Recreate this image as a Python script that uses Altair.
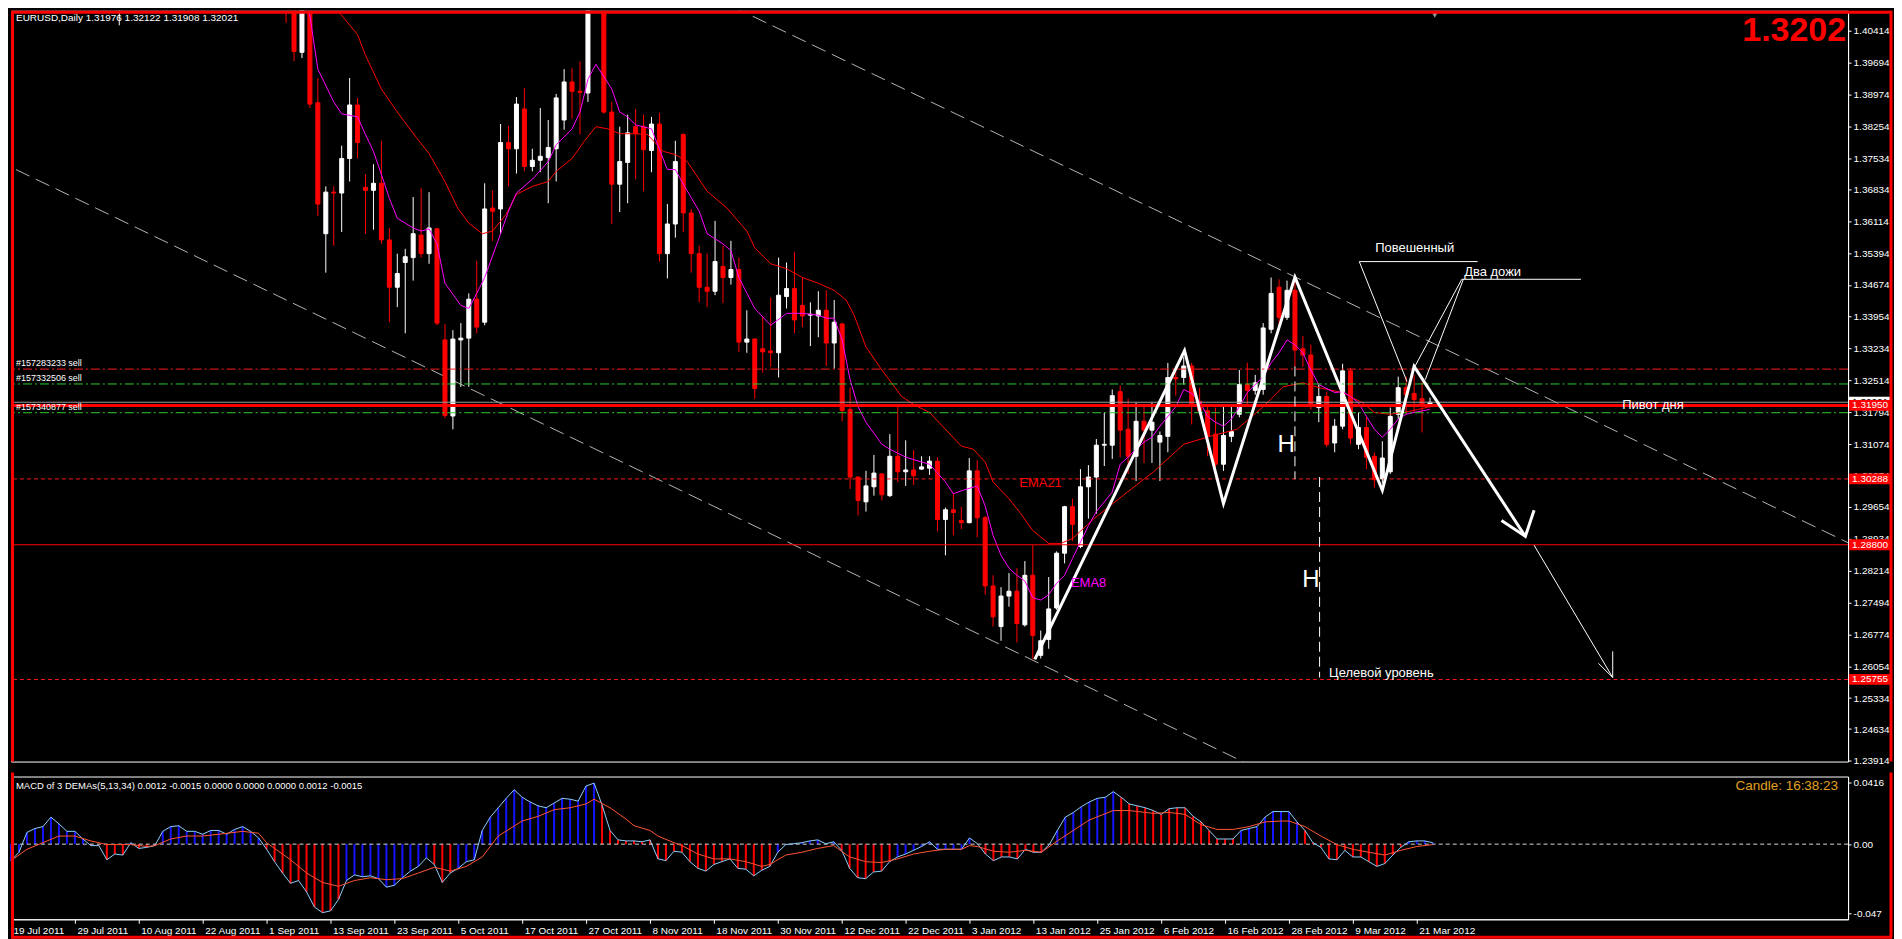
import altair as alt
import pandas as pd

FONT = "Liberation Sans"
W, H_MAIN, H_MACD = 1840, 752, 143

# ---------------- candles (bar index from 19 Jul 2011 = 0) ----------------
bar_idx = [12, 13] + list(range(34, 179))
opens = [
    1.4330, 1.4150,
    1.4190, 1.4120, 1.3993, 1.4100, 1.3879, 1.3583, 1.3677, 1.3675, 1.3753, 1.3874,
    1.3688, 1.3681, 1.3697, 1.3569, 1.3462, 1.3518, 1.3529, 1.3580, 1.3538, 1.3594,
    1.3343, 1.3171, 1.3343, 1.3347, 1.3435, 1.3383, 1.3641, 1.3639, 1.3789, 1.3775,
    1.3865, 1.3735, 1.3749, 1.3755, 1.3775, 1.3840, 1.3926, 1.3905, 1.3901, 1.4180,
    1.4140, 1.3858, 1.3695, 1.3744, 1.3825, 1.3825, 1.3771, 1.3831, 1.3538, 1.3605,
    1.3807, 1.3630, 1.3538, 1.3462, 1.3453, 1.3509, 1.3484, 1.3502, 1.3338, 1.3345,
    1.3323, 1.3318, 1.3314, 1.3441, 1.3459, 1.3421, 1.3399, 1.3397, 1.3410, 1.3336,
    1.3379, 1.3186, 1.3033, 1.2977, 1.3011, 1.3040, 1.2991, 1.3080, 1.3045, 1.3049,
    1.3051, 1.3053, 1.3069, 1.2937, 1.2959, 1.2935, 1.2930, 1.3047, 1.2941, 1.2787,
    1.2695, 1.2764, 1.2775, 1.2699, 1.2811, 1.2630, 1.2666, 1.2737, 1.2861, 1.2966,
    1.2876, 1.3011, 1.3033, 1.3105, 1.3105, 1.3226, 1.3141, 1.3080, 1.3159, 1.3139,
    1.3112, 1.3125, 1.3258, 1.3258, 1.3284, 1.3204, 1.3183, 1.3130, 1.3062, 1.3125,
    1.3175, 1.3242, 1.3229, 1.3231, 1.3367, 1.3462, 1.3394, 1.3455, 1.3323, 1.3309,
    1.3190, 1.3215, 1.3110, 1.3148, 1.3273, 1.3107, 1.3145, 1.3080, 1.3029, 1.3045,
    1.3175, 1.3235, 1.3222, 1.3210, 1.31976,
]
highs = [
    1.4345, 1.4380,
    1.4220, 1.4160, 1.4130, 1.4130, 1.3935, 1.3690, 1.3690, 1.3782, 1.3935, 1.3890,
    1.3717, 1.3740, 1.3793, 1.3596, 1.3538, 1.3549, 1.3666, 1.3686, 1.3677, 1.3596,
    1.3379, 1.3365, 1.3381, 1.3448, 1.3522, 1.3697, 1.3681, 1.3831, 1.3827, 1.3892,
    1.3912, 1.3775, 1.3867, 1.3840, 1.3899, 1.3955, 1.3957, 1.3973, 1.4247, 1.4245,
    1.4150, 1.3881, 1.3825, 1.3852, 1.3865, 1.3852, 1.3847, 1.3856, 1.3650, 1.3793,
    1.3810, 1.3639, 1.3556, 1.3538, 1.3612, 1.3556, 1.3567, 1.3529, 1.3410, 1.3347,
    1.3397, 1.3439, 1.3529, 1.3518, 1.3542, 1.3484, 1.3428, 1.3453, 1.3455, 1.3433,
    1.3382, 1.3235, 1.3035, 1.3047, 1.3083, 1.3042, 1.3130, 1.3192, 1.3116, 1.3094,
    1.3080, 1.3080, 1.3078, 1.2964, 1.2997, 1.2966, 1.3076, 1.3071, 1.2945, 1.2811,
    1.2784, 1.2816, 1.2827, 1.2843, 1.2879, 1.2686, 1.2807, 1.2865, 1.2968, 1.2984,
    1.3051, 1.3060, 1.3119, 1.3179, 1.3231, 1.3240, 1.3210, 1.3201, 1.3192, 1.3201,
    1.3136, 1.3291, 1.3284, 1.3305, 1.3291, 1.3235, 1.3192, 1.3190, 1.3192, 1.3192,
    1.3275, 1.3291, 1.3264, 1.3381, 1.3484, 1.3480, 1.3477, 1.3484, 1.3352, 1.3332,
    1.3242, 1.3226, 1.3164, 1.3289, 1.3280, 1.3179, 1.3170, 1.3089, 1.3114, 1.3190,
    1.3260, 1.3260, 1.3264, 1.3249, 1.32122,
]
lows = [
    1.4088, 1.4054,
    1.4060, 1.3973, 1.3980, 1.3867, 1.3623, 1.3495, 1.3556, 1.3587, 1.3701, 1.3753,
    1.3583, 1.3592, 1.3560, 1.3383, 1.3417, 1.3358, 1.3477, 1.3529, 1.3515, 1.3376,
    1.3166, 1.3141, 1.3237, 1.3237, 1.3358, 1.3376, 1.3567, 1.3583, 1.3690, 1.3719,
    1.3724, 1.3724, 1.3722, 1.3652, 1.3701, 1.3818, 1.3843, 1.3807, 1.3881, 1.4110,
    1.3854, 1.3605, 1.3632, 1.3652, 1.3706, 1.3679, 1.3722, 1.3520, 1.3482, 1.3574,
    1.3587, 1.3495, 1.3428, 1.3417, 1.3444, 1.3426, 1.3468, 1.3316, 1.3314, 1.3210,
    1.3269, 1.3282, 1.3258, 1.3414, 1.3358, 1.3372, 1.3329, 1.3349, 1.3284, 1.3278,
    1.3159, 1.3006, 1.2946, 1.2955, 1.2991, 1.2980, 1.2988, 1.3022, 1.3013, 1.3015,
    1.3049, 1.3038, 1.2910, 1.2856, 1.2901, 1.2915, 1.2928, 1.2897, 1.2767, 1.2695,
    1.2663, 1.2740, 1.2659, 1.2695, 1.2621, 1.2623, 1.2645, 1.2733, 1.2838, 1.2888,
    1.2872, 1.2939, 1.2950, 1.3058, 1.3074, 1.3078, 1.3040, 1.3024, 1.3065, 1.3065,
    1.3024, 1.3089, 1.3217, 1.3242, 1.3152, 1.3175, 1.3080, 1.3051, 1.3047, 1.3112,
    1.3168, 1.3192, 1.3219, 1.3219, 1.3358, 1.3365, 1.3388, 1.3282, 1.3282, 1.3186,
    1.3157, 1.3101, 1.3089, 1.3141, 1.3107, 1.3096, 1.3051, 1.3009, 1.3018, 1.3040,
    1.3164, 1.3175, 1.3179, 1.3134, 1.31908,
]
closes = [
    1.4094, 1.4290,
    1.4094, 1.3995, 1.4105, 1.3876, 1.3650, 1.3677, 1.3675, 1.3753, 1.3874, 1.3789,
    1.3681, 1.3697, 1.3569, 1.3462, 1.3493, 1.3531, 1.3583, 1.3538, 1.3596, 1.3381,
    1.3172, 1.3345, 1.3347, 1.3435, 1.3372, 1.3639, 1.3634, 1.3789, 1.3775, 1.3876,
    1.3735, 1.3749, 1.3758, 1.3778, 1.3890, 1.3926, 1.3905, 1.3903, 1.4180, 1.4150,
    1.3858, 1.3695, 1.3746, 1.3811, 1.3809, 1.3773, 1.3831, 1.3538, 1.3605, 1.3746,
    1.3630, 1.3538, 1.3462, 1.3453, 1.3520, 1.3484, 1.3502, 1.3338, 1.3345, 1.3233,
    1.3316, 1.3314, 1.3444, 1.3459, 1.3388, 1.3397, 1.3401, 1.3410, 1.3336, 1.3383,
    1.3183, 1.3033, 1.2980, 1.3013, 1.3042, 1.2993, 1.3080, 1.3045, 1.3049, 1.3036,
    1.3056, 1.3069, 1.2937, 1.2959, 1.2953, 1.2930, 1.3047, 1.2941, 1.2787, 1.2717,
    1.2764, 1.2775, 1.2702, 1.2811, 1.2675, 1.2663, 1.2735, 1.2861, 1.2966, 1.2926,
    1.3011, 1.3033, 1.3105, 1.3107, 1.3217, 1.3139, 1.3080, 1.3159, 1.3139, 1.3157,
    1.3127, 1.3258, 1.3255, 1.3284, 1.3197, 1.3183, 1.3125, 1.3062, 1.3127, 1.3136,
    1.3242, 1.3229, 1.3246, 1.3370, 1.3448, 1.3394, 1.3455, 1.3320, 1.3309, 1.3195,
    1.3215, 1.3107, 1.3148, 1.3273, 1.3121, 1.3145, 1.3078, 1.3027, 1.3076, 1.3170,
    1.3235, 1.3219, 1.3208, 1.3197, 1.32021,
]

# ---------------- moving averages ----------------
ema8_idx = [36, 37, 38, 40, 41, 43, 44, 45, 46, 47, 48, 50, 51, 52, 53, 54, 56, 57, 58, 59,
            61, 62, 63, 65, 67, 68, 70, 71, 72, 73, 75, 76, 77, 78, 80, 82, 83, 84, 86, 87,
            89, 90, 91, 93, 95, 97, 99, 101, 102, 103, 104, 105, 106, 107, 109, 110, 112, 114, 115, 117,
            118, 119, 121, 122, 123, 124, 125, 126, 127, 128, 129, 130, 131, 132, 133, 135, 136, 138, 139, 140,
            141, 142, 143, 144, 146, 147, 148, 149, 150, 151, 152, 153, 154, 155, 157, 158, 159, 160, 161, 162,
            163, 164, 166, 167, 168, 169, 170, 171, 172, 173, 174, 175, 176, 178]
ema8_val = [1.4130, 1.4076, 1.3955, 1.3881, 1.3854, 1.3847, 1.3807, 1.3769, 1.3717, 1.3663,
            1.3618, 1.3596, 1.3589, 1.3594, 1.3560, 1.3471, 1.3421, 1.3414, 1.3448, 1.3484,
            1.3583, 1.3634, 1.3675, 1.3706, 1.3746, 1.3784, 1.3820, 1.3858, 1.3932, 1.3966,
            1.3910, 1.3858, 1.3847, 1.3829, 1.3820, 1.3728, 1.3728, 1.3695, 1.3634, 1.3583,
            1.3560, 1.3545, 1.3484, 1.3414, 1.3376, 1.3403, 1.3403, 1.3399, 1.3392, 1.3392,
            1.3343, 1.3253, 1.3192, 1.3157, 1.3107, 1.3096, 1.3078, 1.3067, 1.3062, 1.3022,
            1.2995, 1.3002, 1.3013, 1.2968, 1.2901, 1.2856, 1.2827, 1.2811, 1.2798, 1.2760,
            1.2755, 1.2767, 1.2793, 1.2811, 1.2849, 1.2923, 1.2955, 1.2999, 1.3062, 1.3078,
            1.3096, 1.3112, 1.3123, 1.3148, 1.3192, 1.3231, 1.3222, 1.3204, 1.3170, 1.3157,
            1.3148, 1.3164, 1.3192, 1.3224, 1.3260, 1.3291, 1.3314, 1.3343, 1.3332, 1.3314,
            1.3275, 1.3242, 1.3224, 1.3226, 1.3215, 1.3201, 1.3170, 1.3141, 1.3123, 1.3141,
            1.3164, 1.3175, 1.3179, 1.3186]
ema21_idx = [39, 40, 43, 44, 46, 48, 50.5, 52, 54, 55.6, 57, 58.7, 60, 61.7, 63, 65, 67, 68, 70, 71.5,
             73, 74.5, 76, 78, 79.5, 81.5, 83, 84.5, 87, 89.5, 92, 93, 95, 97, 99, 101, 103, 104.5, 105.5, 107,
             109, 111.5, 113, 115, 117, 119, 120.5, 122, 123, 125, 126.5, 128, 130, 131.5, 133, 135.7, 139.9,
             143.2, 147, 150.3, 153.7, 157, 159.5, 162, 164, 167, 169.5, 171, 173, 175.3, 178]
ema21_val = [1.4120, 1.4098, 1.4033, 1.3986, 1.3910, 1.3858, 1.3798, 1.3764, 1.3701, 1.3641,
             1.3607, 1.3583, 1.3589, 1.3627, 1.3672, 1.3690, 1.3701, 1.3724, 1.3753, 1.3791,
             1.3825, 1.3820, 1.3809, 1.3809, 1.3807, 1.3769, 1.3762, 1.3746, 1.3679, 1.3641,
             1.3589, 1.3551, 1.3515, 1.3504, 1.3484, 1.3471, 1.3455, 1.3433, 1.3399, 1.3327,
             1.3275, 1.3215, 1.3197, 1.3179, 1.3141, 1.3103, 1.3096, 1.3067, 1.3022, 1.2984,
             1.2950, 1.2912, 1.2883, 1.2883, 1.2894, 1.2939, 1.2999, 1.3045, 1.3107, 1.3125,
             1.3141, 1.3192, 1.3237, 1.3246, 1.3235, 1.3224, 1.3201, 1.3179, 1.3175, 1.3181,
             1.3192]

# ---------------- MACD of 3 DEMAs ----------------
macd_vals = [
    -0.0112, -0.0055, 0.0080, 0.0106, 0.0119, 0.0183, 0.0138, 0.0087, 0.0087, 0.0035,
    -0.0010, -0.0010, -0.0106, -0.0067, -0.0074, 0.0010, -0.0029, -0.0022, -0.0010, 0.0087,
    0.0119, 0.0125, 0.0087, 0.0087, 0.0067, 0.0093, 0.0093, 0.0067, 0.0100, 0.0119,
    0.0087, 0.0042, -0.0035, -0.0119, -0.0196, -0.0266, -0.0247, -0.0324, -0.0427, -0.0465,
    -0.0453, -0.0376, -0.0247, -0.0209, -0.0221, -0.0215, -0.0234, -0.0292, -0.0279, -0.0228,
    -0.0183, -0.0151, -0.0093, -0.0138, -0.0260, -0.0196, -0.0164, -0.0119, -0.0106, 0.0093,
    0.0183, 0.0247, 0.0311, 0.0369, 0.0318, 0.0286, 0.0260, 0.0247, 0.0279, 0.0311,
    0.0305, 0.0292, 0.0395, 0.0414, 0.0266, 0.0093, 0.0029, 0.0022, 0.0022, 0.0016,
    0.0029, -0.0100, -0.0112, -0.0048, -0.0055, -0.0119, -0.0164, -0.0183, -0.0138, -0.0119,
    -0.0100, -0.0164, -0.0170, -0.0215, -0.0177, -0.0151, -0.0055, -0.0003, 0.0003, 0.0010,
    0.0022, 0.0029, 0.0003, 0.0016, -0.0042, -0.0164, -0.0228, -0.0234, -0.0189, -0.0183,
    -0.0119, -0.0087, -0.0067, -0.0042, -0.0016, 0.0016, -0.0035, -0.0035, -0.0035, -0.0035,
    0.0042, 0.0003, -0.0067, -0.0112, -0.0087, -0.0087, -0.0100, -0.0035, -0.0055, -0.0055,
    -0.0003, 0.0093, 0.0183, 0.0215, 0.0254, 0.0286, 0.0311, 0.0318, 0.0356, 0.0318,
    0.0273, 0.0260, 0.0247, 0.0228, 0.0202, 0.0241, 0.0247, 0.0247, 0.0189, 0.0151,
    0.0093, 0.0035, 0.0035, 0.0035, 0.0093, 0.0106, 0.0119, 0.0183, 0.0221, 0.0221,
    0.0221, 0.0151, 0.0093, 0.0010, -0.0022, -0.0100, -0.0106, -0.0042, -0.0087, -0.0087,
    -0.0119, -0.0151, -0.0132, -0.0074, -0.0022, 0.0016, 0.0022, 0.0022, 0.0010,
]
blue_ranges = [(0, 9), (15, 15), (19, 31), (42, 52), (56, 73), (96, 103), (111, 120),
               (130, 138), (154, 161), (175, 178)]
sig_idx = [0, 2, 4, 6, 8, 10, 12, 15, 17, 18, 20, 22, 24, 26, 29, 31, 32, 35, 37, 39,
           41, 43, 45, 47, 49, 51, 53, 55, 57, 59, 61, 64, 66, 68, 70, 72, 73, 75, 77, 78,
           80, 81, 83, 84, 86, 88, 90, 92, 94, 95, 97, 99, 101, 103, 105, 107, 109, 111, 113, 115,
           117, 119, 120, 121, 123, 125, 127, 129, 131, 133, 135, 138, 140, 143, 145, 147, 149, 151, 153, 155,
           157, 159, 160, 162, 164, 166, 168, 170, 172, 174, 176, 178]
sig_val = [-0.0112, -0.0035, 0.0010, 0.0055, 0.0055, 0.0022, -0.0003, -0.0003, -0.0016, -0.0010,
           0.0035, 0.0055, 0.0055, 0.0067, 0.0087, 0.0074, 0.0010, -0.0106, -0.0196, -0.0260,
           -0.0286, -0.0247, -0.0228, -0.0241, -0.0234, -0.0196, -0.0157, -0.0183, -0.0151, -0.0087,
           0.0055, 0.0157, 0.0189, 0.0234, 0.0247, 0.0273, 0.0305, 0.0247, 0.0170, 0.0125,
           0.0093, 0.0055, 0.0010, -0.0010, -0.0067, -0.0100, -0.0100, -0.0119, -0.0151, -0.0138,
           -0.0074, -0.0055, -0.0029, -0.0010, -0.0087, -0.0119, -0.0125, -0.0100, -0.0067, -0.0048,
           -0.0035, -0.0035, -0.0010, -0.0016, -0.0048, -0.0055, -0.0042, -0.0055, 0.0022, 0.0093,
           0.0164, 0.0228, 0.0228, 0.0209, 0.0215, 0.0202, 0.0132, 0.0100, 0.0100, 0.0119,
           0.0151, 0.0157, 0.0157, 0.0119, 0.0055, -0.0003, -0.0035, -0.0055, -0.0074, -0.0042,
           -0.0016, -0.0003]

# ---------------- axes text ----------------
date_labels = ["19 Jul 2011", "29 Jul 2011", "10 Aug 2011", "22 Aug 2011", "1 Sep 2011",
               "13 Sep 2011", "23 Sep 2011", "5 Oct 2011", "17 Oct 2011", "27 Oct 2011",
               "8 Nov 2011", "18 Nov 2011", "30 Nov 2011", "12 Dec 2011", "22 Dec 2011",
               "3 Jan 2012", "13 Jan 2012", "25 Jan 2012", "6 Feb 2012", "16 Feb 2012",
               "28 Feb 2012", "9 Mar 2012", "21 Mar 2012"]
price_ticks = [1.40414, 1.39694, 1.38974, 1.38254, 1.37534, 1.36834, 1.36114, 1.35394,
               1.34674, 1.33954, 1.33234, 1.32514, 1.31794, 1.31074, 1.30374, 1.29654,
               1.28934, 1.28214, 1.27494, 1.26774, 1.26054, 1.25334, 1.24634, 1.23914]
macd_ticks = [0.0416, 0.0, -0.047]

# ---------------- drawn objects ----------------
level_prices = [1.32770, 1.32434, 1.32021, 1.31950, 1.31784, 1.30288, 1.28800, 1.25755]
order_labels = ["#157283233 sell", "#157332506 sell", "#157340877 sell"]
order_prices = [1.32770, 1.32434, 1.31784]
zigzag_idx = [128.25, 147.1, 152, 161, 172, 176, 190]
zigzag_p = [1.2621, 1.3319, 1.2973, 1.3485, 1.3003, 1.3283, 1.2899]
head_idx = [187, 190, 191.1]
head_p = [1.2935, 1.2899, 1.2958]
thin_idx = [191.1, 201]
thin_p = [1.2879, 1.2580]
thin_head_idx = [199.2, 201, 201]
thin_head_p = [1.2612, 1.2580, 1.2639]
chan_up_idx, chan_up_p = [90.25, 232.1], [1.4096, 1.2872]
chan_lo_idx, chan_lo_p = [0, 155], [1.3728, 1.2385]

# ---------------- scales / axes / helpers ----------------
xs = alt.Scale(domain=[0, 230], nice=False, zero=False)
ys = alt.Scale(domain=[1.2390, 1.4087], nice=False, zero=False)
ms = alt.Scale(domain=[-0.0510, 0.0459], nice=False, zero=False)

price_axis = alt.Axis(orient="right", values=price_ticks, format=".5f",
                      tickSize=3, tickColor="#ffffff", domainColor="#ffffff", labelColor="#ffffff",
                      labelFontSize=10, labelFont=FONT, labelPadding=2, title=None, grid=False,
                      labelOverlap=False)
label_js = "[" + ",".join("'" + s + "'" for s in date_labels) + "][floor(datum.value / 8)]"
date_axis = alt.Axis(orient="bottom", values=list(range(0, 8 * len(date_labels), 8)),
                     labelExpr=label_js, tickSize=4, tickColor="#ffffff", domainColor="#ffffff",
                     labelColor="#ffffff", labelFontSize=10, labelFont=FONT, labelAlign="left",
                     labelBaseline="top", labelPadding=2, labelOffset=2,
                     labelOverlap=False, title=None, grid=False)
macd_axis = alt.Axis(orient="right", values=macd_ticks,
                     labelExpr="datum.value == 0 ? '0.00' : (datum.value > 0 ? '0.0416' : '-0.047')",
                     tickSize=3, tickColor="#ffffff", domainColor="#ffffff", labelColor="#ffffff",
                     labelFontSize=10, labelFont=FONT, labelPadding=2, title=None, grid=False,
                     labelOverlap=False)


def X(f="i"):
    return alt.X(f"{f}:Q", scale=xs, axis=None)


def Y(f="p"):
    return alt.Y(f"{f}:Q", scale=ys, axis=price_axis)


def MX(f="i"):
    return alt.X(f"{f}:Q", scale=xs, axis=date_axis)


def MY(f):
    return alt.Y(f"{f}:Q", scale=ms, axis=macd_axis)


one = pd.DataFrame({"k": [0]})

cdf = pd.DataFrame({"i": bar_idx, "o": opens, "h": highs, "l": lows, "c": closes})
cdf["dir"] = ["up" if c >= o else "dn" for o, c in zip(opens, closes)]
ccol = alt.Scale(domain=["up", "dn"], range=["#ffffff", "#ff0000"])

wicks = alt.Chart(cdf).mark_rule(strokeWidth=1, clip=True).encode(
    x=X(), y=Y("l"), y2="h:Q",
    color=alt.Color("dir:N", scale=ccol, legend=None))
bodies = alt.Chart(cdf).mark_bar(size=4, strokeWidth=1, clip=True).encode(
    x=X(), y=Y("o"), y2="c:Q",
    color=alt.Color("dir:N", scale=ccol, legend=None),
    stroke=alt.Stroke("dir:N", scale=ccol, legend=None))

ema8 = alt.Chart(pd.DataFrame({"i": ema8_idx, "p": ema8_val})).mark_line(
    color="#ff00ff", strokeWidth=1, clip=True).encode(x=X(), y=Y())
ema21 = alt.Chart(pd.DataFrame({"i": ema21_idx, "p": ema21_val})).mark_line(
    color="#ff0000", strokeWidth=1, clip=True).encode(x=X(), y=Y())


def hline(price, color, width=1, dash=None):
    kw = dict(color=color, strokeWidth=width, clip=True)
    if dash:
        kw["strokeDash"] = dash
    return alt.Chart(pd.DataFrame({"p": [price]})).mark_rule(**kw).encode(y=Y())


levels = [
    hline(level_prices[0], "#ff1a1a", 1, [9, 3, 2, 3]),
    hline(level_prices[1], "#2ecc2e", 1, [9, 3, 2, 3]),
    hline(level_prices[2], "#9a9a9a", 1),
    hline(level_prices[3], "#ff0000", 3),
    hline(level_prices[4], "#2ecc2e", 1, [9, 3, 2, 3]),
    hline(level_prices[5], "#ff1a1a", 1, [4, 3]),
    hline(level_prices[6], "#ff0000", 1),
    hline(level_prices[7], "#ff1a1a", 1, [4, 3]),
]


def path(il, pl, color="#ffffff", width=1, dash=None):
    df = pd.DataFrame({"i": il, "p": pl, "k": list(range(len(il)))})
    kw = dict(color=color, strokeWidth=width, clip=True)
    if dash:
        kw["strokeDash"] = dash
    return alt.Chart(df).mark_line(**kw).encode(x=X(), y=Y(), order="k:Q")


def label(i, p, text, color="#ffffff", size=13, align="left", baseline="middle"):
    df = pd.DataFrame({"i": [i], "p": [p], "t": [text]})
    return alt.Chart(df).mark_text(align=align, baseline=baseline, color=color, fontSize=size,
                                   font=FONT).encode(x=X(), y=Y(), text="t:N")


def ptext(x, y, text, color="#ffffff", size=10, align="left", baseline="middle", weight="normal"):
    df = pd.DataFrame({"t": [text]})
    return alt.Chart(df).mark_text(align=align, baseline=baseline, color=color, fontSize=size,
                                   font=FONT, fontWeight=weight).encode(
        x=alt.value(x), y=alt.value(y), text="t:N")


def axbox(price, fill, tcolor, text):
    df = pd.DataFrame({"p": [price], "p1": [price + 0.00122], "p2": [price - 0.00122], "t": [text]})
    box = alt.Chart(df).mark_rect(color=fill).encode(
        x=alt.value(W + 1), x2=alt.value(W + 42), y=Y("p1"), y2="p2:Q")
    txt = alt.Chart(df).mark_text(align="left", baseline="middle", color=tcolor, fontSize=10,
                                  font=FONT).encode(x=alt.value(W + 4), y=Y("p"), text="t:N")
    return [box, txt]


def frame(**enc):
    return alt.Chart(one).mark_rule(color="#ff0000", strokeWidth=3).encode(
        **{k: alt.value(v) for k, v in enc.items()})


order_txt = [alt.Chart(pd.DataFrame({"p": [p], "t": [t]})).mark_text(
    align="left", baseline="bottom", dy=-1, color="#ffffff", fontSize=9, font=FONT).encode(
    x=alt.value(5), y=Y(), text="t:N") for p, t in zip(order_prices, order_labels)]

marker = alt.Chart(pd.DataFrame({"i": [178.6]})).mark_point(
    shape="triangle-down", filled=True, color="#9a9a9a", size=45, opacity=1).encode(
    x=X(), y=alt.value(4))

main_layers = [
    path(chan_up_idx, chan_up_p, "#b4b4b4", 1, [15, 7]),
    path(chan_lo_idx, chan_lo_p, "#b4b4b4", 1, [15, 7]),
    wicks, bodies, ema21, ema8,
] + levels + [
    path(zigzag_idx, zigzag_p, "#ffffff", 3),
    path(head_idx, head_p, "#ffffff", 3),
    path(thin_idx, thin_p, "#ffffff", 1),
    path(thin_head_idx, thin_head_p, "#ffffff", 1),
    path([169.1, 184.0], [1.3520, 1.3520]),
    path([169.1, 175.1], [1.3520, 1.3249]),
    path([182.0, 197.0], [1.3480, 1.3480]),
    path([182.0, 176.1], [1.3480, 1.3283]),
    path([182.2, 177.4], [1.3480, 1.3253]),
    path([161, 161], [1.3283, 1.3028], "#ffffff", 1, [10, 5]),
    path([164.1, 164.1], [1.3033, 1.2580], "#ffffff", 1, [10, 5]),
    label(171.1, 1.3551, "Повешенный"),
    label(182.3, 1.3496, "Два дожи"),
    label(202.2, 1.3196, "Пивот дня"),
    label(165.3, 1.2590, "Целевой уровень"),
    label(126.3, 1.3019, "EMA21", "#ff0000"),
    label(132.8, 1.2793, "EMA8", "#ff00ff"),
    label(159.9, 1.3105, "H", "#ffffff", 24, "center"),
    label(163.0, 1.2801, "H", "#ffffff", 24, "center"),
] + order_txt + [
    ptext(5, 7, "EURUSD,Daily  1.31976 1.32122 1.31908 1.32021", size=10),
    ptext(W - 2, 30, "1.3202", "#ff0000", 34, "right", "alphabetic", "bold"),
    marker,
] + axbox(1.32021, "#ffffff", "#000000", "1.32021") \
  + axbox(1.31950, "#ff0000", "#ffffff", "1.31950") \
  + axbox(1.30288, "#ff0000", "#ffffff", "1.30288") \
  + axbox(1.28800, "#ff0000", "#ffffff", "1.28800") \
  + axbox(1.25755, "#ff0000", "#ffffff", "1.25755") + [
    frame(x=1.5, y=0, y2=H_MAIN),
    frame(x=0, x2=W + 44, y=1.5),
    frame(x=W + 43, y=0, y2=H_MAIN),
]

main = alt.layer(*main_layers).properties(width=W, height=H_MAIN)

# ---------------- MACD panel ----------------
mdf = pd.DataFrame({"i": list(range(len(macd_vals))), "m": macd_vals})
mdf["col"] = ["b" if any(a <= i <= b for a, b in blue_ranges) else "r" for i in mdf["i"]]
mdf["z"] = 0.0

hist = alt.Chart(mdf).mark_rule(strokeWidth=2).encode(
    x=MX(), y=MY("z"), y2="m:Q",
    color=alt.Color("col:N", scale=alt.Scale(domain=["b", "r"], range=["#1414ff", "#ff0000"]),
                    legend=None))
zero = alt.Chart(pd.DataFrame({"v": [0.0]})).mark_rule(
    color="#d8d8d8", strokeWidth=1, strokeDash=[4, 3]).encode(y=MY("v"))
macd_line = alt.Chart(mdf).mark_line(color="#8ccfff", strokeWidth=1).encode(x=MX(), y=MY("m"))
sig_line = alt.Chart(pd.DataFrame({"i": sig_idx, "s": sig_val})).mark_line(
    color="#ff5535", strokeWidth=1).encode(x=MX(), y=MY("s"))

macd = alt.layer(
    hist, zero, macd_line, sig_line,
    ptext(5, 10, "MACD of 3 DEMAs(5,13,34) 0.0012 -0.0015 0.0000 0.0000 0.0000 0.0012 -0.0015", size=9.5),
    ptext(W - 10, 10, "Candle:  16:38:23", "#e0a020", 13.5, "right"),
    frame(x=1.5, y=-4, y2=H_MACD + 19),
    frame(x=W + 43, y=-4, y2=H_MACD + 19),
    frame(x=0, x2=W + 44, y=H_MACD + 18),
).properties(width=W, height=H_MACD)

chart = alt.vconcat(main, macd, spacing=4).resolve_scale(
    color="independent", stroke="independent"
).properties(
    padding=0, background="#000000"
).configure_view(stroke="#ffffff", strokeWidth=1)

chart.save("out.html", embed_options={"renderer": "svg", "actions": False})
